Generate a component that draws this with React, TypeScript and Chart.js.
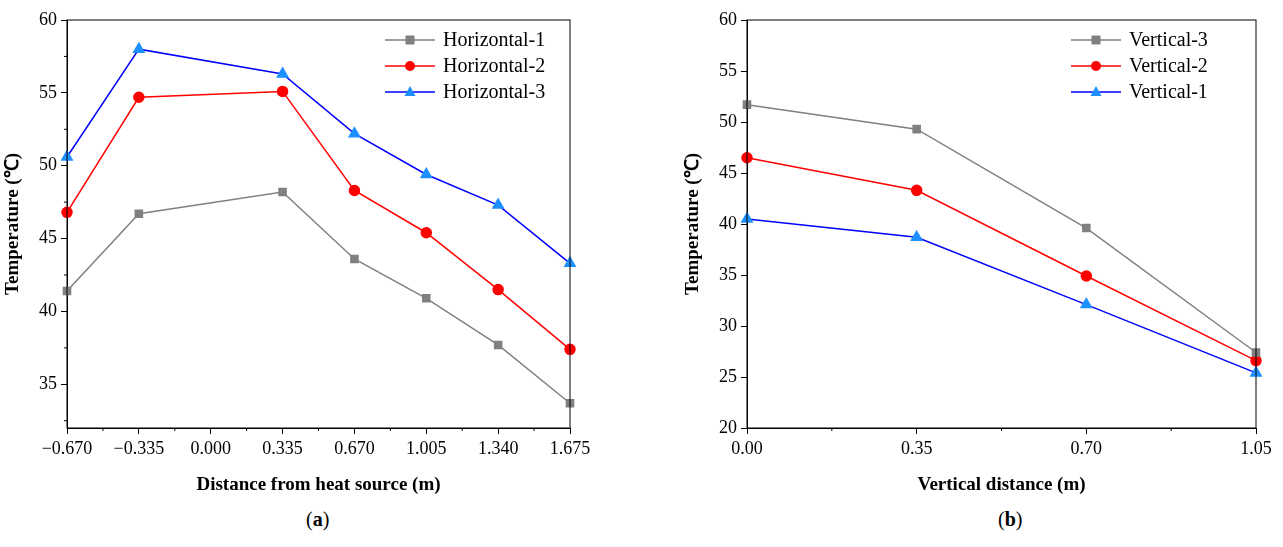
import React, { useEffect, useRef } from "react";
import { Chart, registerables } from "chart.js";
Chart.register(...registerables);

const xA = [-0.67, -0.335, 0.335, 0.67, 1.005, 1.34, 1.675];
const h1 = [41.4, 46.7, 48.2, 43.6, 40.9, 37.7, 33.7];
const h2 = [46.8, 54.7, 55.1, 48.3, 45.4, 41.5, 37.4];
const h3 = [50.6, 58.0, 56.3, 52.2, 49.4, 47.3, 43.3];
const xB = [0, 0.35, 0.7, 1.05];
const v3 = [51.7, 49.3, 39.6, 27.4];
const v2 = [46.5, 43.3, 34.9, 26.6];
const v1 = [40.5, 38.7, 32.1, 25.4];

const GRAY = "#808080", RED = "#ff0000", BLUE = "#0000ff", LBLUE = "#1e90ff";
const FONT = "'Liberation Serif', 'Times New Roman', serif";

const frame = {
  id: "frame",
  afterDraw(c: any) {
    const { ctx, chartArea: a, scales } = c;
    ctx.save();
    ctx.strokeStyle = "#000";
    ctx.lineWidth = 1;
    ctx.strokeRect(a.left, a.top, a.right - a.left, a.bottom - a.top);
    const ys = scales.y, xs = scales.x;
    ctx.beginPath();
    for (let v = Math.ceil(ys.min / 2.5) * 2.5; v <= ys.max; v += 5) {
      if (Math.abs(v % 5) < 1e-9) continue;
      const y = ys.getPixelForValue(v);
      ctx.moveTo(a.left, y); ctx.lineTo(a.left - 3, y);
    }
    const xt = xs.ticks.map((t: any) => t.value);
    for (let i = 0; i < xt.length - 1; i++) {
      const x = xs.getPixelForValue((xt[i] + xt[i + 1]) / 2);
      ctx.moveTo(x, a.bottom); ctx.lineTo(x, a.bottom + 3);
    }
    ctx.stroke();
    const ds = c.data.datasets;
    const lx = a.right - 185, ly0 = a.top + 20;
    ds.forEach((d: any, i: number) => {
      const y = ly0 + i * 26;
      ctx.strokeStyle = d.borderColor; ctx.lineWidth = 1.5;
      ctx.beginPath(); ctx.moveTo(lx, y); ctx.lineTo(lx + 50, y); ctx.stroke();
      ctx.fillStyle = d.pointBackgroundColor;
      const cx = lx + 25;
      ctx.beginPath();
      if (d.pointStyle === "rect") ctx.rect(cx - 4.5, y - 4.5, 9, 9);
      else if (d.pointStyle === "circle") ctx.arc(cx, y, 5, 0, Math.PI * 2);
      else { ctx.moveTo(cx, y - 6); ctx.lineTo(cx + 5.5, y + 4); ctx.lineTo(cx - 5.5, y + 4); ctx.closePath(); }
      ctx.fill();
      ctx.fillStyle = "#000"; ctx.font = `20px ${FONT}`; ctx.textBaseline = "middle";
      ctx.fillText(d.label, lx + 58, y + 1);
    });
    ctx.restore();
  },
};

function mk(label: string, xs: number[], ys: number[], color: string, fill: string, style: string) {
  return {
    label, data: xs.map((x, i) => ({ x, y: ys[i] })), borderColor: color, borderWidth: 1.5,
    pointBackgroundColor: fill, pointBorderColor: fill, pointStyle: style,
    pointRadius: style === "triangle" ? 6 : 5, tension: 0, clip: false as any,
  };
}

function Panel({ datasets, xmin, xmax, xstep, ymin, ymax, xtitle, dec, padR }: any) {
  const ref = useRef<HTMLCanvasElement>(null);
  useEffect(() => {
    const chart = new Chart(ref.current!, {
      type: "line",
      data: { datasets },
      plugins: [frame],
      options: {
        animation: false, responsive: false, maintainAspectRatio: false,
        layout: { padding: { top: 20, right: padR, left: 0, bottom: 0 } },
        plugins: { legend: { display: false }, tooltip: { enabled: false } },
        scales: {
          x: {
            type: "linear", min: xmin, max: xmax,
            afterBuildTicks: (s: any) => {
              const t = []; for (let v = xmin; v <= xmax + 1e-9; v += xstep) t.push({ value: +v.toFixed(4) }); s.ticks = t;
            },
            afterFit: (s: any) => { s.height = 72; },
            grid: { drawOnChartArea: false, drawTicks: true, tickLength: 6, color: "#000" },
            border: { color: "#000" },
            ticks: { color: "#000", font: { size: 18, family: FONT }, padding: 4, maxRotation: 0,
              callback: (v: any) => (Number(v) < 0 ? "\u2212" + Math.abs(v).toFixed(dec) : Number(v).toFixed(dec)) },
            title: { display: true, text: xtitle, color: "#000", font: { size: 19, family: FONT, weight: "bold" }, padding: { top: 14 } },
          },
          y: {
            min: ymin, max: ymax,
            afterBuildTicks: (s: any) => {
              const t = []; for (let v = Math.ceil(ymin / 5) * 5; v <= ymax; v += 5) t.push({ value: v }); s.ticks = t;
            },
            afterFit: (s: any) => { s.width = 67; },
            grid: { drawOnChartArea: false, drawTicks: true, tickLength: 6, color: "#000" },
            border: { color: "#000" },
            ticks: { color: "#000", font: { size: 18, family: FONT }, padding: 4 },
            title: { display: true, text: "Temperature (\u2103)", color: "#000", font: { size: 19, family: FONT, weight: "bold" }, padding: 2 },
          },
        },
      },
    } as any);
    return () => chart.destroy();
  }, []);
  return <canvas ref={ref} width={600} height={500} style={{ width: 600, height: 500 }} />;
}

export default function App() {
  const left = [
    mk("Horizontal-1", xA, h1, GRAY, GRAY, "rect"),
    mk("Horizontal-2", xA, h2, RED, RED, "circle"),
    mk("Horizontal-3", xA, h3, BLUE, LBLUE, "triangle"),
  ];
  const right = [
    mk("Vertical-3", xB, v3, GRAY, GRAY, "rect"),
    mk("Vertical-2", xB, v2, RED, RED, "circle"),
    mk("Vertical-1", xB, v1, BLUE, LBLUE, "triangle"),
  ];
  const cap = { position: "absolute" as const, top: 508, fontFamily: FONT, fontSize: 20, color: "#000" };
  return (
    <div style={{ position: "fixed", left: 0, top: 0, width: 1283, height: 547, background: "#fff" }}>
      <div style={{ position: "absolute", left: 0, top: 0 }}>
        <Panel datasets={left} xmin={-0.67} xmax={1.675} xstep={0.335} ymin={32} ymax={60} xtitle="Distance from heat source (m)" dec={3} padR={30} />
      </div>
      <div style={{ position: "absolute", left: 680, top: 0 }}>
        <Panel datasets={right} xmin={0} xmax={1.05} xstep={0.35} ymin={20} ymax={60} xtitle="Vertical distance (m)" dec={2} padR={24} />
      </div>
      <div style={{ ...cap, left: 306 }}>(<b>a</b>)</div>
      <div style={{ ...cap, left: 998 }}>(<b>b</b>)</div>
    </div>
  );
}
